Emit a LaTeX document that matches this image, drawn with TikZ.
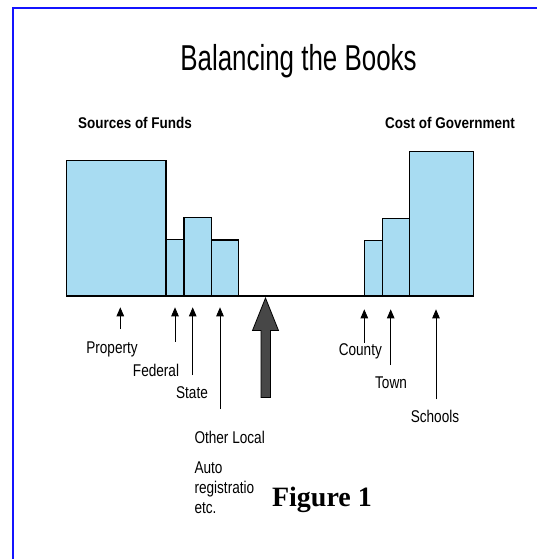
\documentclass[tikz,border=0pt]{standalone}
\usepackage{fontspec}
\usetikzlibrary{arrows.meta}
\setmainfont{Liberation Sans}
\newfontfamily\titlefont[FakeStretch=0.72]{Liberation Sans}
\newfontfamily\labelfont[FakeStretch=0.8]{Liberation Sans}
\newfontfamily\headfont[FakeStretch=0.87]{Liberation Sans}
\newfontfamily\figfont{Liberation Serif}
\definecolor{barblue}{RGB}{168,220,242}
\definecolor{frameblue}{RGB}{20,20,255}
\tikzset{
  bar/.style={draw=black,line width=1.2pt,fill=barblue},
  up/.style={-{Triangle[width=7.5pt,length=9pt]},line width=0.9pt},
  lbl/.style={inner sep=0pt,anchor=base,font=\labelfont\fontsize{17}{20}\selectfont}
}
\begin{document}
\begin{tikzpicture}[x=1pt,y=-1pt]
		\useasboundingbox (0,0) rectangle (537,559);
		\draw [frameblue, line width=2pt] (537,8.3) -- (13,8.3) -- (13,559);
		\node [inner sep=0pt, anchor=base] (title) at (298.5,71) {\titlefont\fontsize{36}{40}\selectfont Balancing the Books};
		\node [inner sep=0pt, anchor=base] (sources) at (135,128.3) {\headfont\bfseries\fontsize{15.5}{18}\selectfont Sources of Funds};
		\node [inner sep=0pt, anchor=base] (cost) at (450,128.3) {\headfont\bfseries\fontsize{15.5}{18}\selectfont Cost of Government};
		\draw [line width=1.2pt] (66.7,296) -- (473.3,296);
		\foreach \xa/\xb/\yt in {66.7/166/160.7, 166/184/239.3, 184/211.7/217.3, 211.7/238.7/240,
			364.3/382.3/240.7, 382.3/409.3/218.7, 409.3/473.3/151.7}
			\draw [bar] (\xa,296) rectangle (\xb,\yt);
		\draw [fill=black!72, line width=0.8pt] (265.5,298) -- (278.5,330.5) -- (270.5,330.5) -- (270.5,397.5)
			-- (261,397.5) -- (261,330.5) -- (252.5,330.5) -- cycle;
		\coordinate (tipsL) at (0,307.3);
		\coordinate (tipsR) at (0,309.3);
		\foreach \name/\x/\y in {property/120.3/329, federal/175/341.7, state/192.7/375, other/220/409}
		{
			\coordinate (\name tail) at (\x,\y);
			\draw [up] (\name tail) -- (\name tail |- tipsL);
		}
		\foreach \name/\x/\y in {county/364.3/342.7, town/390.7/365, schools/436/399.3}
		{
			\coordinate (\name tail) at (\x,\y);
			\draw [up] (\name tail) -- (\name tail |- tipsR);
		}
		\node [lbl] (property) at (112,353.3) {Property};
		\node [lbl] (federal) at (156,376) {Federal};
		\node [lbl] (state) at (192,398.3) {State};
		\node [lbl, anchor=base west] (other) at (194.3,443.3) {Other Local};
		\node [lbl, anchor=base west] (auto) at (194.3,473.3) {Auto};
		\node [lbl, anchor=base west] (registr) at (194.3,493.3) {registratio};
		\node [lbl, anchor=base west] (etc) at (194.3,513.3) {etc.};
		\node [lbl] (county) at (360.3,355) {County};
		\node [lbl] (town) at (391,388.3) {Town};
		\node [lbl] (schools) at (435,422.7) {Schools};
		\node [inner sep=0pt, anchor=base] (fig) at (322,506) {\figfont\bfseries\fontsize{28}{32}\selectfont Figure 1};
\end{tikzpicture}
\end{document}
